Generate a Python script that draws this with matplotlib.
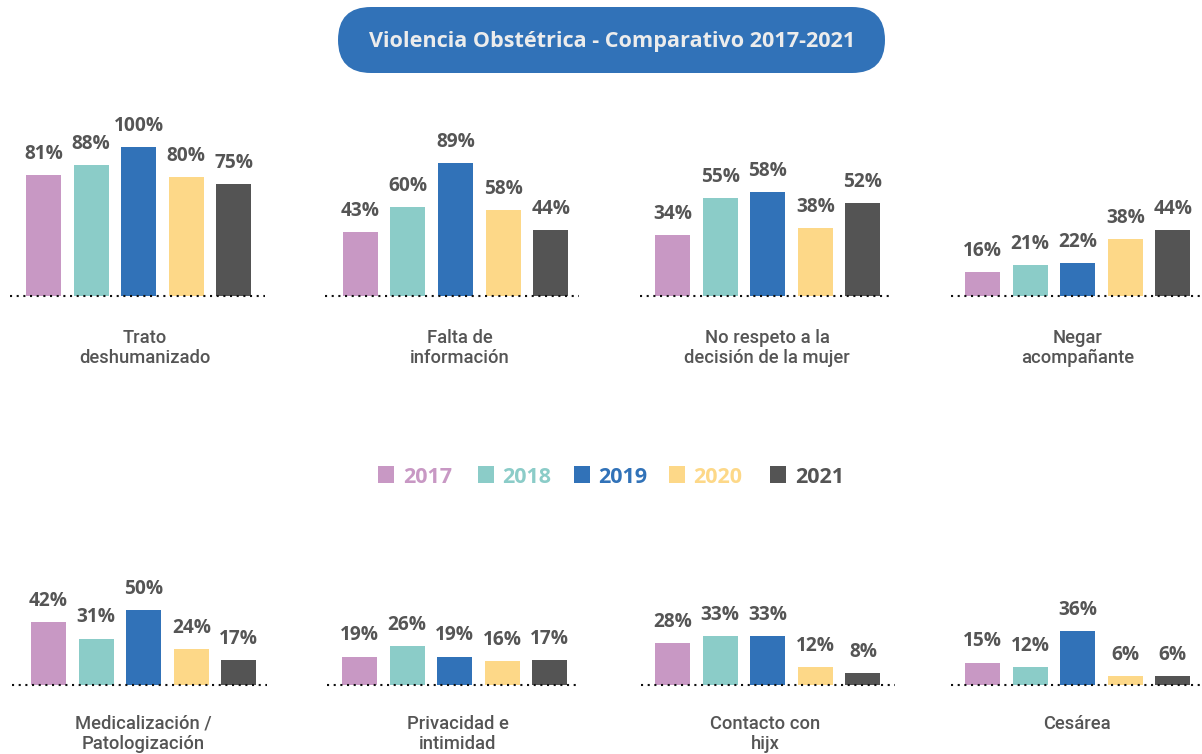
import matplotlib
matplotlib.use("Agg")
import matplotlib.pyplot as plt
from matplotlib.patches import FancyBboxPatch, Rectangle

# ---------------- data ----------------
title = "Violencia Obstétrica - Comparativo 2017-2021"
years = ["2017", "2018", "2019", "2020", "2021"]
categories = [
    "Trato\ndeshumanizado",
    "Falta de\ninformación",
    "No respeto a la\ndecisión de la mujer",
    "Negar\nacompañante",
    "Medicalización /\nPatologización",
    "Privacidad e\nintimidad",
    "Contacto con\nhijx",
    "Cesárea",
]
v2017 = [81, 43, 34, 16, 42, 19, 28, 15]
v2018 = [88, 60, 55, 21, 31, 26, 33, 12]
v2019 = [100, 89, 58, 22, 50, 19, 33, 36]
v2020 = [80, 58, 38, 38, 24, 16, 12, 6]
v2021 = [75, 44, 52, 44, 17, 17, 8, 6]
series = [v2017, v2018, v2019, v2020, v2021]

# ---------------- style / layout ----------------
colors = ["#c898c4", "#8bccc8", "#3172b8", "#fdd888", "#545454"]
gray = "#555555"
W, H = 1202, 754
fig = plt.figure(figsize=(W / 100, H / 100), dpi=100)
fig.patch.set_facecolor("white")

# overlay axes in pixel coordinates
ax0 = fig.add_axes([0, 0, 1, 1])
ax0.set_xlim(0, W)
ax0.set_ylim(H, 0)
ax0.axis("off")

# panel geometry (pixels)
Lpx = [10, 325, 640, 951, 12, 327, 641, 951]
Rpx = [265, 579, 893, 1201, 267, 580, 895, 1200]
C0 = [43.5, 360.3, 672.5, 982.5, 48.5, 359.5, 672.5, 982.5]
LabX = [144.5, 459.5, 767, 1077.5, 143, 458, 765.5, 1076.5]
scale = [1.49, 1.49, 1.79, 1.49, 1.5, 1.5, 1.5, 1.5]
step = 47.6
barw = 35 / step

for i, cat in enumerate(categories):
    top_row = i < 4
    B = 296 if top_row else 685
    T = 110 if top_row else 575
    ax = fig.add_axes([Lpx[i] / W, 1 - B / H, (Rpx[i] - Lpx[i]) / W, (B - T) / H])
    ax.set_xlim((Lpx[i] - C0[i]) / step, (Rpx[i] - C0[i]) / step)
    ax.set_ylim(0, (B - T) / scale[i])
    ax.axis("off")
    vals = [s[i] for s in series]
    xs = list(range(len(years)))
    ax.bar(xs, vals, width=barw, color=colors, zorder=2)
    for x, v in zip(xs, vals):
        ax.annotate(f"{v}%", (x, v), xytext=(0, 16), textcoords="offset pixels",
                    ha="center", va="baseline", fontsize=13.8, fontweight="bold",
                    color=gray, family="Open Sans", annotation_clip=False)
    ax.axhline(0, xmin=0, xmax=1, color="#111111", lw=1.5, ls=(0, (1, 2.2)),
               clip_on=False, zorder=3)
    # category label
    lines = cat.split("\n")
    base = B + (47 if top_row else 44)
    for k, ln in enumerate(lines):
        ax0.text(LabX[i], base + 20 * k, ln, ha="center", va="baseline",
                 fontsize=13.2, color=gray, family="Roboto", fontweight="medium")

# title pill
pill = FancyBboxPatch((338, 7), 547, 66, boxstyle="round,pad=0,rounding_size=33",
                      fc="#3172b8", ec="none")
ax0.add_patch(pill)
t = ax0.text(612.5, 47, title, ha="center", va="baseline", color="#ececec",
             fontsize=17, fontweight="bold", family="Open Sans")
fig.canvas.draw()
w = t.get_window_extent().width
t.set_fontsize(17 * 489 / w)

# legend
sq_x = [378, 478, 574, 669, 770]
tx_x = [403, 502, 598, 693, 795]
for yr, c, sx, tx in zip(years, colors, sq_x, tx_x):
    ax0.add_patch(Rectangle((sx, 466), 16, 17, fc=c, ec="none"))
    ax0.text(tx, 483, yr, ha="left", va="baseline", fontsize=15.5,
             fontweight="bold", color=c, family="Open Sans")

fig.savefig("out.png", dpi=100, facecolor="white")
